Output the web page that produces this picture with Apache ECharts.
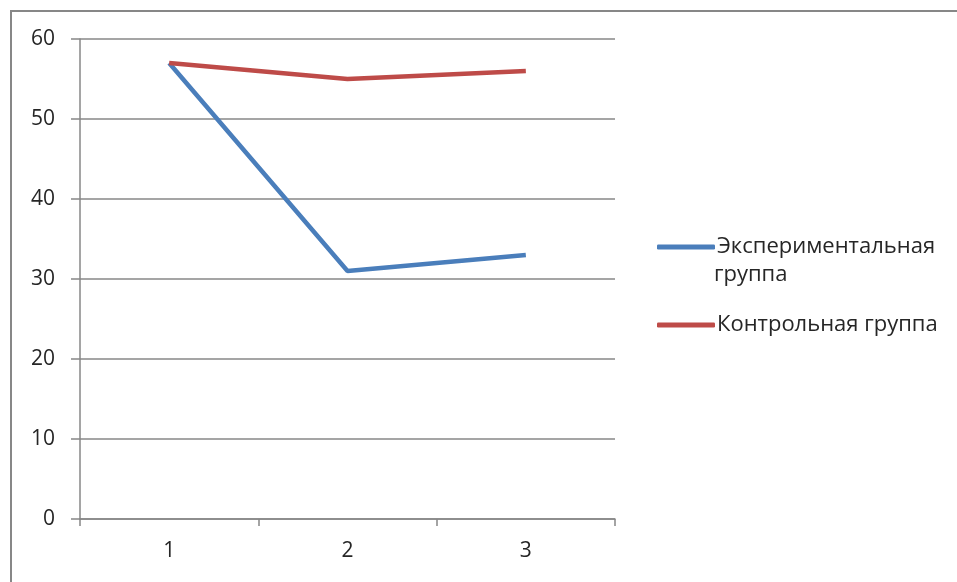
<!DOCTYPE html>
<html><head><meta charset="utf-8">
<script src="https://cdn.jsdelivr.net/npm/echarts@6/dist/echarts.min.js"></script>
<style>html,body{margin:0;padding:0;background:#fff}#c{width:957px;height:582px}</style>
</head><body><div id="c"></div>
<script>
const categories = ['1', '2', '3'];
const experimental = [57, 31, 33];
const control = [57, 55, 56];
const seriesNames = ['Экспериментальная группа', 'Контрольная группа'];
const yTicks = { min: 0, max: 60, interval: 10 };

const chart = echarts.init(document.getElementById('c'));
const font = '"Open Sans", sans-serif';
const gray = '#878787';
const txt = '#262626';
chart.setOption({
  animation: false,
  grid: { left: 80, right: 342, top: 39, bottom: 63 },
  xAxis: {
    type: 'category', data: categories, boundaryGap: true,
    axisLine: { lineStyle: { color: gray, width: 1.5 } },
    axisTick: { show: true, length: 7, lineStyle: { color: gray, width: 1.5 } },
    axisLabel: { color: txt, fontSize: 21, fontFamily: font, margin: 22 }
  },
  yAxis: {
    type: 'value', min: yTicks.min, max: yTicks.max, interval: yTicks.interval,
    axisLine: { show: true, lineStyle: { color: gray, width: 1.5 } },
    axisTick: { show: true, length: 9, lineStyle: { color: gray, width: 1.5 } },
    splitLine: { lineStyle: { color: gray, width: 1.5 } },
    axisLabel: { color: txt, fontSize: 21, fontFamily: font, margin: 25 }
  },
  legend: [
    { data: [seriesNames[0]], left: 652, top: 228, itemWidth: 58, itemHeight: 5, itemGap: 0, icon: 'roundRect',
      formatter: () => 'Экспериментальная',
      textStyle: { color: txt, fontSize: 22, fontFamily: font, lineHeight: 28, padding: [0, 0, 0, -3] } },
    { data: [seriesNames[1]], left: 652, top: 306, itemWidth: 58, itemHeight: 5, itemGap: 0, icon: 'roundRect',
      textStyle: { color: txt, fontSize: 22, fontFamily: font, lineHeight: 28, padding: [0, 0, 0, -3] } }
  ],
  graphic: [
    { type: 'rect', shape: { x: 11, y: 11, width: 1200, height: 1200 }, style: { fill: 'none', stroke: gray, lineWidth: 2 }, silent: true },
    { type: 'text', left: 714, top: 264, style: { text: 'группа', fill: txt, font: '22px "Open Sans", sans-serif' } }
  ],
  series: [
    { name: seriesNames[0], type: 'line', data: experimental, showSymbol: false, symbol: 'none',
      lineStyle: { color: '#4A7EBB', width: 4.5 }, itemStyle: { color: '#4A7EBB' } },
    { name: seriesNames[1], type: 'line', data: control, showSymbol: false, symbol: 'none',
      lineStyle: { color: '#BE4B48', width: 4.5 }, itemStyle: { color: '#BE4B48' } }
  ]
});
</script></body></html>
